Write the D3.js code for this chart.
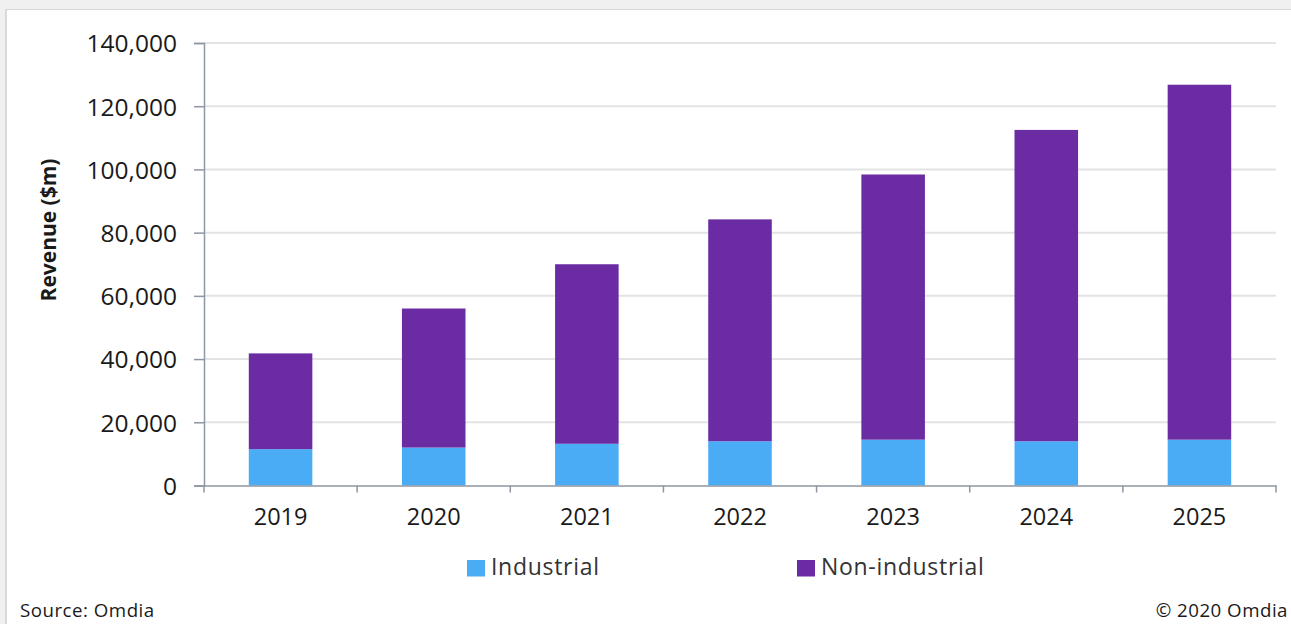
<!DOCTYPE html>
<html>
<head>
<meta charset="utf-8">
<script src="https://cdn.jsdelivr.net/npm/d3@7"></script>
<style>
  html, body { margin: 0; padding: 0; background: #f0f0f0; overflow: hidden; }
  svg { display: block; }
</style>
</head>
<body>
<svg id="chart" width="1291" height="624"></svg>
<script>
const categories = ["2019", "2020", "2021", "2022", "2023", "2024", "2025"];
const industrial = [11500, 12000, 13200, 14000, 14500, 14000, 14500];
const nonIndustrial = [30300, 44000, 56800, 70200, 83900, 98500, 112300];
const seriesNames = ["Industrial", "Non-industrial"];
const seriesColors = ["#4BACF6", "#6A2BA3"];
const yTicks = [0, 20000, 40000, 60000, 80000, 100000, 120000, 140000];

(function () {
const svg = d3.select("#chart");
const font = "'Open Sans', sans-serif";

// page background
svg.append("rect").attr("x", 0).attr("y", 0).attr("width", 1291).attr("height", 624).attr("fill", "#f0f0f0");
svg.append("rect").attr("x", 5).attr("y", 9).attr("width", 1286).attr("height", 615).attr("fill", "#d9d9d9");
svg.append("rect").attr("x", 7).attr("y", 10).attr("width", 1284).attr("height", 614).attr("fill", "#ffffff");

const pLeft = 204, pRight = 1276, pTop = 43, pBottom = 485.5;

const x = d3.scaleBand().domain(categories).range([pLeft, pRight]).padding(0);
const y = d3.scaleLinear().domain([0, 140000]).range([pBottom, pTop]);

// gridlines
svg.append("g").selectAll("line").data(yTicks.slice(1)).join("line")
  .attr("x1", pLeft).attr("x2", pRight)
  .attr("y1", d => y(d)).attr("y2", d => y(d))
  .attr("stroke", "#e3e3e3").attr("stroke-width", 2);

// stacked data
const rows = categories.map((c, i) => ({ cat: c, Industrial: industrial[i], "Non-industrial": nonIndustrial[i] }));
const stack = d3.stack().keys(seriesNames)(rows);
const barW = x.bandwidth() * 0.415;

svg.append("g").selectAll("g").data(stack).join("g")
  .attr("fill", (d, i) => seriesColors[i])
  .selectAll("rect").data(d => d).join("rect")
  .attr("x", d => x(d.data.cat) + (x.bandwidth() - barW) / 2)
  .attr("width", barW)
  .attr("y", d => y(d[1]))
  .attr("height", d => y(d[0]) - y(d[1]));

// y axis
const yAxis = svg.append("g").attr("transform", `translate(${pLeft},0)`)
  .call(d3.axisLeft(y).tickValues(yTicks).tickFormat(d3.format(",")).tickSize(10).tickPadding(17));
yAxis.select(".domain").attr("stroke", "#8e96a3").attr("stroke-width", 1.5);
yAxis.selectAll(".tick line").attr("stroke", "#8e96a3").attr("stroke-width", 1.5);
yAxis.selectAll(".tick text").attr("font-family", font).attr("font-size", 24.5).attr("fill", "#1a1a1a").attr("dy", "0.36em");

// x axis
const xAxis = svg.append("g").attr("transform", `translate(0,${pBottom})`)
  .call(d3.axisBottom(x).tickSize(0).tickPadding(23));
xAxis.select(".domain").attr("stroke", "#8e96a3").attr("stroke-width", 1.5);
xAxis.selectAll(".tick text").attr("font-family", font).attr("font-size", 23.5).attr("fill", "#1a1a1a");
// boundary ticks
const bounds = categories.map(c => x(c)).concat([pRight]);
svg.append("g").selectAll("line").data(bounds).join("line")
  .attr("x1", d => d).attr("x2", d => d)
  .attr("y1", pBottom).attr("y2", pBottom + 7)
  .attr("stroke", "#8e96a3").attr("stroke-width", 1.5);

// y axis title
svg.append("text")
  .attr("transform", "translate(56,230) rotate(-90)")
  .attr("text-anchor", "middle")
  .attr("font-family", font).attr("font-weight", "bold").attr("font-size", 21)
  .attr("fill", "#1a1a1a")
  .text("Revenue ($m)");

// legend
const legendX = [467, 797];
const lg = svg.append("g").selectAll("g").data(seriesNames).join("g")
  .attr("transform", (d, i) => `translate(${legendX[i]},560)`);
lg.append("rect").attr("width", 18).attr("height", 16.5).attr("fill", (d, i) => seriesColors[i]);
lg.append("text").attr("x", 24).attr("y", 15)
  .attr("font-family", font).attr("font-size", 23).attr("letter-spacing", 0.7).attr("fill", "#333333")
  .text(d => d);

// footer
svg.append("text").attr("x", 20).attr("y", 616.5)
  .attr("font-family", font).attr("font-size", 18.7).attr("letter-spacing", 0.5).attr("fill", "#1a1a1a")
  .text("Source: Omdia");
svg.append("text").attr("x", 1288).attr("y", 616.5).attr("text-anchor", "end")
  .attr("font-family", font).attr("font-size", 18.7).attr("letter-spacing", 0.5).attr("fill", "#1a1a1a")
  .text("© 2020 Omdia");
})();
</script>
</body>
</html>
